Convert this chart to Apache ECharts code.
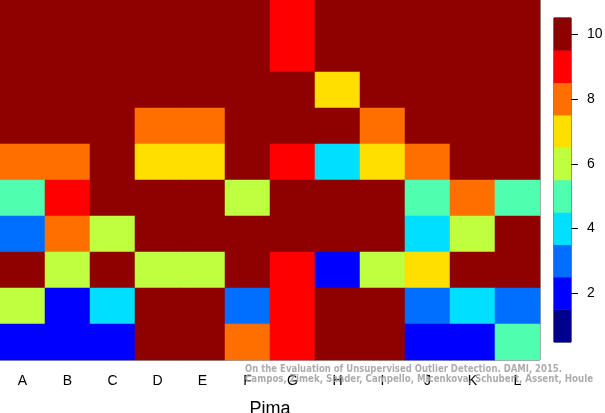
<!DOCTYPE html>
<html>
<head>
<meta charset="utf-8">
<script src="https://cdn.jsdelivr.net/npm/echarts@6/dist/echarts.min.js"></script>
<style>html,body{margin:0;padding:0;background:#fff}#c{width:605px;height:413px}</style>
</head>
<body>
<div id="c"></div>
<script>
const columns = ['A','B','C','D','E','F','G','H','I','J','K','L'];
const rowIds = ['r1','r2','r3','r4','r5','r6','r7','r8','r9','r10'];
// top row first, columns A..L
const row1  = [10,10,10,10,10,10, 9,10,10,10,10,10];
const row2  = [10,10,10,10,10,10, 9,10,10,10,10,10];
const row3  = [10,10,10,10,10,10,10, 7,10,10,10,10];
const row4  = [10,10,10, 8, 8,10,10,10, 8,10,10,10];
const row5  = [ 8, 8,10, 7, 7,10, 9, 4, 7, 8,10,10];
const row6  = [ 5, 9,10,10,10, 6,10,10,10, 5, 8, 5];
const row7  = [ 3, 8, 6,10,10,10,10,10,10, 4, 6,10];
const row8  = [10, 6,10, 6, 6,10, 9, 2, 6, 7,10,10];
const row9  = [ 6, 2, 4,10,10, 3, 9,10,10, 3, 4, 3];
const row10 = [ 2, 2, 2,10,10, 8, 9,10,10, 2, 2, 5];
const rows = [row1,row2,row3,row4,row5,row6,row7,row8,row9,row10];
const levels = [1,2,3,4,5,6,7,8,9,10];
const levelColors = ['#00008F','#0000FF','#006FFF','#00DFFF','#4FFFAF','#BFFF3F','#FFDF00','#FF6F00','#FF0000','#8F0000'];
const xTitle = 'Pima';
const credit1 = 'On the Evaluation of Unsupervised Outlier Detection. DAMI, 2015.';
const credit2 = 'Campos, Zimek, Sander, Campello, Micenkova, Schubert, Assent, Houle';

const cellData = [];
rows.forEach((r, yi) => r.forEach((v, xi) => cellData.push([xi, yi, v])));
const barData = levels.map((v, i) => [0, i, v]);

const creditFont = 'bold 10px "DejaVu Sans"';
const mctx = document.createElement('canvas').getContext('2d');
mctx.font = creditFont;
const w1 = mctx.measureText(credit1).width;
const w2 = mctx.measureText(credit2).width;

const chart = echarts.init(document.getElementById('c'), null, {renderer: 'canvas'});
chart.setOption({
  animation: false,
  grid: [
    {left: 0, top: 0, width: 540, height: 360, show: true, borderColor: '#444', borderWidth: 1, backgroundColor: 'transparent', outerBoundsMode: 'none', containLabel: false},
    {left: 554, top: 18, width: 17, height: 324, show: true, borderColor: '#000', borderWidth: 1, backgroundColor: 'transparent', outerBoundsMode: 'none', containLabel: false}
  ],
  xAxis: [
    {type: 'category', gridIndex: 0, data: columns, position: 'bottom',
     axisLine: {show: false}, axisTick: {show: false}, splitLine: {show: false},
     axisLabel: {color: '#000', fontSize: 14, fontFamily: 'Liberation Sans', margin: 14},
     name: xTitle, nameLocation: 'middle', nameGap: 40,
     nameTextStyle: {color: '#000', fontSize: 18, fontFamily: 'Liberation Sans'}},
    {type: 'category', gridIndex: 1, data: ['c'], show: false}
  ],
  yAxis: [
    {type: 'category', gridIndex: 0, data: rowIds, inverse: true, show: false},
    {type: 'category', gridIndex: 1, data: levels.map(String), position: 'right',
     axisLine: {show: false}, splitLine: {show: false},
     axisTick: {show: true, length: 7, alignWithLabel: true, lineStyle: {color: '#000'},
       interval: (i, v) => Number(v) % 2 === 0},
     axisLabel: {color: '#000', fontSize: 14, fontFamily: 'Liberation Sans', margin: 16,
       interval: (i, v) => Number(v) % 2 === 0}}
  ],
  visualMap: {
    type: 'piecewise', show: false, seriesIndex: [0, 1], dimension: 2,
    pieces: levels.map((v, i) => ({value: v, color: levelColors[i]}))
  },
  series: [
    {type: 'heatmap', xAxisIndex: 0, yAxisIndex: 0, data: cellData, itemStyle: {borderWidth: 0}},
    {type: 'heatmap', xAxisIndex: 1, yAxisIndex: 1, data: barData, itemStyle: {borderWidth: 0}}
  ],
  graphic: [
    {type: 'text', x: 245, y: 364, scaleX: 317 / w1, z: 100,
     style: {text: credit1, fill: 'rgba(165,165,165,0.92)', font: creditFont}},
    {type: 'text', x: 245, y: 374.5, scaleX: 348 / w2, z: 100,
     style: {text: credit2, fill: 'rgba(165,165,165,0.92)', font: creditFont}}
  ]
});
</script>
</body>
</html>
